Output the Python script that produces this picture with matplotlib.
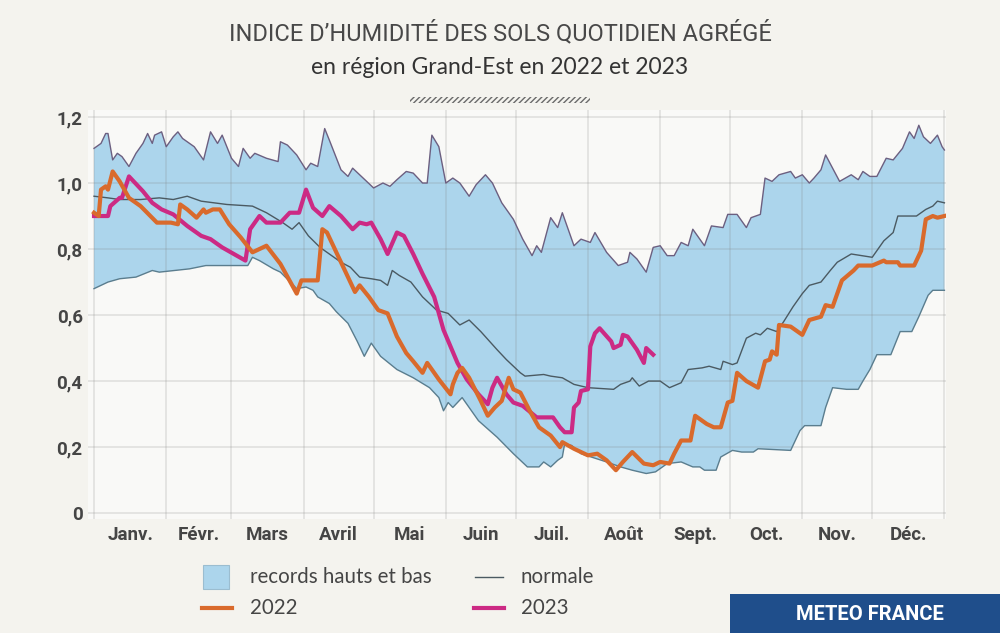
import matplotlib
matplotlib.use('Agg')
import matplotlib.pyplot as plt
import numpy as np
from matplotlib.lines import Line2D
from matplotlib.patches import Rectangle

# day of year -> soil wetness index
upper_days = [0, 3, 5, 6, 8, 10, 12, 15, 18, 21, 23, 25, 26, 29, 31, 34, 36, 38, 43, 47,
              50, 53, 55, 59, 62, 64, 67, 69, 74, 79, 80, 83, 87, 91, 93, 96, 99, 101, 106, 109,
              111, 114, 120, 124, 127, 130, 134, 137, 141, 143, 145, 148, 151, 154, 157, 161, 164, 168, 171, 175,
              180, 184, 188, 190, 192, 196, 199, 201, 206, 209, 213, 215, 220, 225, 229, 230, 233, 237, 240, 243,
              246, 249, 252, 255, 257, 262, 265, 270, 272, 276, 280, 282, 286, 288, 291, 294, 299, 301, 304, 307,
              309, 312, 314, 317, 320, 325, 328, 330, 333, 336, 340, 343, 347, 350, 352, 354, 356, 359, 362, 364, 365]
upper_vals = [1.105, 1.12, 1.15, 1.15, 1.07, 1.09, 1.08, 1.05, 1.09, 1.12, 1.15, 1.12, 1.145, 1.155, 1.11, 1.14, 1.155, 1.135, 1.11, 1.07,
              1.155, 1.12, 1.145, 1.075, 1.05, 1.105, 1.075, 1.09, 1.075, 1.065, 1.125, 1.115, 1.085, 1.04, 1.06, 1.05, 1.165, 1.13, 1.04, 1.02,
              1.045, 1.025, 0.985, 1.0, 0.99, 1.01, 1.035, 1.03, 1.0, 1.0, 1.145, 1.11, 1.0, 1.015, 1.0, 0.96, 0.995, 1.025, 1.0, 0.94,
              0.89, 0.83, 0.78, 0.81, 0.79, 0.895, 0.865, 0.91, 0.81, 0.83, 0.82, 0.85, 0.79, 0.75, 0.76, 0.79, 0.77, 0.73, 0.805, 0.81,
              0.78, 0.78, 0.82, 0.81, 0.86, 0.81, 0.87, 0.865, 0.905, 0.905, 0.865, 0.895, 0.905, 1.015, 1.005, 1.025, 1.035, 1.015, 1.025, 1.0,
              1.015, 1.04, 1.085, 1.045, 1.005, 1.025, 1.01, 1.035, 1.02, 1.02, 1.075, 1.07, 1.105, 1.155, 1.135, 1.175, 1.14, 1.12, 1.145, 1.11, 1.10]

lower_days = [0, 6, 11, 18, 25, 28, 41, 48, 66, 68, 71, 77, 80, 87, 91, 94, 96, 101, 104, 109,
              113, 116, 119, 123, 130, 137, 144, 148, 150, 152, 154, 158, 165, 173, 180, 186, 191, 193, 196, 199,
              201, 202, 205, 209, 220, 226, 231, 237, 241, 246, 252, 257, 260, 262, 267, 269, 274, 278, 283, 285,
              299, 303, 305, 312, 314, 317, 323, 328, 330, 333, 336, 342, 346, 351, 354, 358, 360, 365]
lower_vals = [0.68, 0.70, 0.71, 0.715, 0.735, 0.73, 0.74, 0.75, 0.75, 0.775, 0.765, 0.74, 0.73, 0.68, 0.685, 0.675, 0.655, 0.635, 0.61, 0.575,
              0.52, 0.475, 0.515, 0.475, 0.435, 0.41, 0.38, 0.35, 0.31, 0.335, 0.32, 0.35, 0.28, 0.23, 0.18, 0.14, 0.14, 0.155, 0.14, 0.16,
              0.17, 0.21, 0.205, 0.18, 0.155, 0.14, 0.13, 0.12, 0.125, 0.15, 0.155, 0.14, 0.14, 0.13, 0.13, 0.17, 0.19, 0.185, 0.185, 0.195,
              0.19, 0.25, 0.265, 0.265, 0.32, 0.38, 0.375, 0.375, 0.40, 0.435, 0.48, 0.48, 0.55, 0.55, 0.595, 0.66, 0.675, 0.675]

normal_days = [0, 6, 11, 20, 28, 34, 40, 46, 57, 68, 74, 81, 85, 88, 92, 97, 101, 106, 110, 114,
               119, 123, 126, 128, 131, 136, 141, 147, 152, 157, 161, 166, 173, 177, 183, 185, 193, 196, 201, 206,
               212, 223, 226, 230, 231, 234, 238, 243, 247, 252, 255, 261, 264, 269, 270, 274, 276, 280, 284, 286,
               289, 293, 296, 300, 304, 307, 312, 316, 319, 325, 334, 339, 343, 345, 353, 357, 360, 362, 365]
normal_vals = [0.96, 0.955, 0.95, 0.95, 0.955, 0.95, 0.96, 0.945, 0.935, 0.93, 0.91, 0.88, 0.86, 0.88, 0.84, 0.805, 0.785, 0.76, 0.745, 0.715,
               0.71, 0.705, 0.69, 0.735, 0.72, 0.70, 0.655, 0.615, 0.605, 0.57, 0.585, 0.55, 0.495, 0.465, 0.425, 0.415, 0.42, 0.415, 0.41, 0.39,
               0.38, 0.375, 0.39, 0.40, 0.41, 0.385, 0.40, 0.40, 0.38, 0.395, 0.435, 0.44, 0.445, 0.435, 0.46, 0.45, 0.455, 0.53, 0.545, 0.54,
               0.56, 0.55, 0.58, 0.625, 0.665, 0.69, 0.70, 0.735, 0.76, 0.785, 0.775, 0.825, 0.85, 0.90, 0.90, 0.92, 0.93, 0.945, 0.94]

y2022_days = [0, 2, 3, 5, 6, 8, 11, 15, 20, 27, 33, 36, 37, 40, 44, 47, 48, 51, 54, 58,
              63, 68, 74, 80, 87, 89, 96, 98, 100, 106, 112, 114, 118, 122, 126, 130, 134, 137, 141, 143,
              148, 153, 154, 156, 158, 161, 166, 169, 172, 175, 178, 180, 183, 187, 191, 196, 200, 201, 206, 212,
              216, 220, 224, 227, 231, 236, 240, 243, 247, 249, 252, 256, 258, 263, 266, 269, 272, 274, 276, 280,
              285, 288, 290, 291, 293, 294, 299, 304, 307, 312, 314, 317, 321, 326, 328, 334, 339, 340, 345, 346,
              352, 355, 357, 360, 362, 365]
y2022_vals = [0.91, 0.90, 0.98, 0.99, 0.98, 1.035, 1.005, 0.955, 0.93, 0.88, 0.88, 0.875, 0.935, 0.92, 0.895, 0.92, 0.91, 0.92, 0.92, 0.875,
              0.835, 0.79, 0.81, 0.755, 0.665, 0.705, 0.705, 0.86, 0.85, 0.76, 0.67, 0.69, 0.655, 0.615, 0.605, 0.535, 0.485, 0.46, 0.425, 0.455,
              0.405, 0.36, 0.39, 0.425, 0.44, 0.41, 0.34, 0.295, 0.32, 0.34, 0.41, 0.375, 0.365, 0.31, 0.26, 0.235, 0.20, 0.215, 0.195, 0.175,
              0.18, 0.16, 0.13, 0.155, 0.185, 0.15, 0.145, 0.155, 0.15, 0.18, 0.22, 0.22, 0.295, 0.27, 0.26, 0.26, 0.335, 0.34, 0.425, 0.40,
              0.38, 0.46, 0.465, 0.49, 0.48, 0.57, 0.565, 0.54, 0.585, 0.595, 0.63, 0.625, 0.705, 0.735, 0.75, 0.75, 0.765, 0.76, 0.76, 0.75,
              0.75, 0.795, 0.89, 0.90, 0.895, 0.90]

y2023_days = [0, 6, 7, 11, 12, 15, 17, 21, 25, 29, 34, 40, 46, 50, 55, 60, 65, 67, 71, 74,
              80, 84, 88, 91, 94, 98, 101, 106, 111, 114, 117, 119, 123, 126, 130, 133, 137, 141, 146, 150,
              156, 160, 165, 169, 171, 173, 177, 180, 184, 190, 193, 197, 200, 202, 205, 206, 208, 209, 212, 213,
              215, 217, 222, 223, 226, 227, 229, 233, 236, 237, 240]
y2023_vals = [0.90, 0.90, 0.93, 0.955, 0.955, 1.02, 1.005, 0.975, 0.94, 0.92, 0.905, 0.87, 0.84, 0.83, 0.805, 0.785, 0.765, 0.86, 0.90, 0.88,
              0.88, 0.91, 0.91, 0.98, 0.925, 0.90, 0.93, 0.90, 0.86, 0.88, 0.875, 0.88, 0.83, 0.785, 0.85, 0.84, 0.785, 0.725, 0.655, 0.555,
              0.455, 0.405, 0.36, 0.33, 0.38, 0.41, 0.36, 0.335, 0.325, 0.29, 0.29, 0.29, 0.26, 0.245, 0.245, 0.32, 0.335, 0.37, 0.375, 0.505,
              0.545, 0.56, 0.52, 0.50, 0.51, 0.54, 0.535, 0.495, 0.455, 0.50, 0.48]

month_starts = [0, 31, 59, 90, 120, 151, 181, 212, 243, 273, 304, 334, 365]
month_labels = ['Janv.', 'Févr.', 'Mars', 'Avril', 'Mai', 'Juin',
                'Juil.', 'Août', 'Sept.', 'Oct.', 'Nov.', 'Déc.']
y_ticks = [0, 0.2, 0.4, 0.6, 0.8, 1.0, 1.2]
y_labels = ['0', '0,2', '0,4', '0,6', '0,8', '1,0', '1,2']

BG = '#f4f3ee'
BAND = '#acd5ec'
C2022 = '#d96a2c'
C2023 = '#cc2a84'
TXT = '#454545'
LEG_FONT = ['Lato', 'DejaVu Sans']
TICK_FONT = ['Roboto', 'DejaVu Sans']

fig = plt.figure(figsize=(10, 6.33), dpi=100, facecolor=BG)
ax = fig.add_axes([0.0882, 0.180, 0.8574, 0.6456])
ax.set_facecolor('#f9f9f7')

# band of records: upper edge forward, lower edge back
ax.fill(np.r_[upper_days, lower_days[::-1]], np.r_[upper_vals, lower_vals[::-1]],
        color=BAND, lw=0, zorder=1)
ax.plot(upper_days, upper_vals, color='#6c5f80', lw=1.0, zorder=3)
ax.plot(lower_days, lower_vals, color='#5a7d8e', lw=1.0, zorder=3)
ax.plot(normal_days, normal_vals, color='#4b5a62', lw=1.0, zorder=3)
ax.plot(y2023_days, y2023_vals, color=C2023, lw=3.0, zorder=4, solid_joinstyle='round')
ax.plot(y2022_days, y2022_vals, color=C2022, lw=3.0, zorder=5, solid_joinstyle='round')

ax.set_xlim(-2.5, 365.5)
ax.set_ylim(-0.018, 1.22)
ax.set_xticks(month_starts)
ax.set_xticklabels([])
mids = [(a + b) / 2 for a, b in zip(month_starts[:-1], month_starts[1:])]
ax.set_xticks(mids, minor=True)
ax.set_xticklabels(month_labels, minor=True, fontfamily=TICK_FONT,
                   fontweight='bold', fontsize=13.5, color=TXT)
ax.set_yticks(y_ticks)
ax.set_yticklabels(y_labels, fontfamily=TICK_FONT, fontweight='bold',
                   fontsize=13.5, color=TXT)
ax.tick_params(axis='both', which='both', length=0)
ax.tick_params(axis='x', which='minor', pad=5)
ax.tick_params(axis='y', pad=4)
ax.grid(True, which='major', color='#808080', alpha=0.2, lw=1.2, zorder=2)
ax.set_axisbelow(False)
for sp in ax.spines.values():
    sp.set_visible(False)

fig.text(0.5, 0.948, "INDICE D’HUMIDITÉ DES SOLS QUOTIDIEN AGRÉGÉ", ha='center', va='center',
         fontsize=17, color='#484848', fontfamily=TICK_FONT)
fig.text(0.5, 0.894, 'en région Grand-Est en 2022 et 2023', ha='center', va='center',
         fontsize=16.5, color='#333333', fontfamily=LEG_FONT)
fig.add_artist(Rectangle((0.41, 0.838), 0.18, 0.008, transform=fig.transFigure,
                         facecolor='none', edgecolor='#6a6a6a', hatch='//////', lw=0))

# legend, placed by hand
fig.add_artist(Rectangle((0.203, 1 - 589 / 633), 0.026, 24 / 633, transform=fig.transFigure,
                         facecolor=BAND, edgecolor='#9bbdd0', lw=0.8))
fig.add_artist(Line2D([0.475, 0.503], [1 - 577 / 633] * 2, transform=fig.transFigure,
                      color='#4b5a62', lw=1.0))
fig.add_artist(Line2D([0.202, 0.232], [1 - 608 / 633] * 2, transform=fig.transFigure,
                      color=C2022, lw=3.0))
fig.add_artist(Line2D([0.474, 0.504], [1 - 608 / 633] * 2, transform=fig.transFigure,
                      color=C2023, lw=3.0))
for x, y, s in [(0.250, 577, 'records hauts et bas'), (0.521, 577, 'normale'),
                (0.250, 608, '2022'), (0.521, 608, '2023')]:
    fig.text(x, 1 - y / 633, s, ha='left', va='center', fontsize=14.8,
             color=TXT, fontfamily=LEG_FONT)

fig.add_artist(Rectangle((0.73, 0), 0.27, 39 / 633, transform=fig.transFigure,
                         facecolor='#1f4e8b', lw=0))
fig.text(0.87, 19 / 633, 'METEO FRANCE', ha='center', va='center', fontsize=14.5,
         fontweight='bold', color='white', fontfamily=['Roboto', 'DejaVu Sans'])

fig.savefig('out.png', dpi=100, facecolor=BG)
